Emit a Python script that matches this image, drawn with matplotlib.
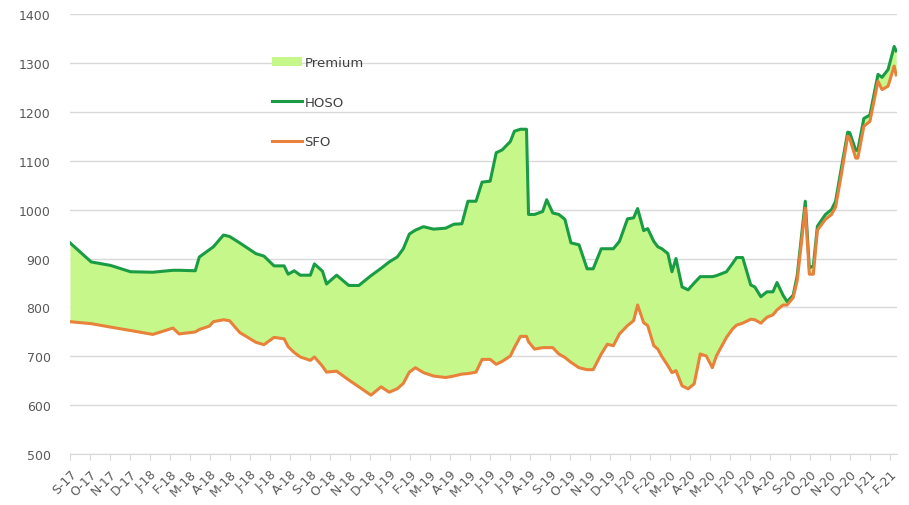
import matplotlib.pyplot as plt
import numpy as np

# month offsets from start of Sep-2017, with HOSO / SFO prices
months = [0.0, 1.05, 2.0, 3.0, 4.1, 5.1, 5.4, 6.2, 6.4, 6.9, 7.1, 7.6, 7.9, 8.4,
          9.2, 9.6, 10.1, 10.6, 10.8, 11.1, 11.4, 11.9, 12.1, 12.5, 12.7, 13.2,
          13.8, 14.3, 14.9, 15.4, 15.8, 16.2, 16.5, 16.8, 17.1, 17.5, 18.0, 18.6,
          19.0, 19.4, 19.7, 20.1, 20.4, 20.8, 21.1, 21.4, 21.8, 22.0, 22.3, 22.6,
          22.7, 23.0, 23.4, 23.6, 23.9, 24.2, 24.5, 24.8, 25.2, 25.6, 25.9, 26.3,
          26.6, 26.9, 27.2, 27.6, 27.9, 28.1, 28.4, 28.6, 28.9, 29.1, 29.3, 29.6,
          29.8, 30.0, 30.3, 30.6, 30.9, 31.2, 31.5, 31.8, 32.0, 32.5, 32.8, 33.0,
          33.3, 33.7, 33.9, 34.2, 34.5, 34.8, 35.0, 35.3, 35.5, 35.8, 36.0, 36.4,
          36.6, 36.8, 37.0, 37.4, 37.7, 37.9, 38.2, 38.5, 38.6, 38.9, 39.0, 39.3,
          39.6, 40.0, 40.2, 40.5, 40.8, 40.9]

hoso = [932, 893, 886, 873, 872, 876, 876, 875, 903, 918, 924, 948, 945, 932,
        910, 905, 885, 885, 868, 875, 866, 866, 889, 874, 848, 866,
        845, 845, 865, 880, 893, 903, 920, 950, 958, 965, 960, 962,
        970, 971, 1017, 1017, 1056, 1058, 1116, 1122, 1139, 1160, 1164, 1164,
        990, 990, 996, 1020, 993, 990, 980, 932, 928, 879, 879, 920,
        920, 920, 935, 981, 983, 1002, 957, 961, 935, 924, 920, 910,
        873, 900, 842, 836, 850, 863, 863, 863, 865, 873, 890, 902,
        902, 846, 842, 822, 832, 832, 851, 825, 812, 825, 865, 1017,
        881, 885, 966, 990, 1000, 1017, 1088, 1158, 1157, 1121, 1121, 1186,
        1193, 1276, 1270, 1286, 1333, 1324]

sfo = [771, 767, 760, 753, 745, 758, 746, 750, 755, 762, 771, 775, 773, 749,
       729, 724, 739, 736, 720, 708, 699, 692, 699, 680, 668, 670,
       652, 638, 621, 638, 627, 634, 645, 668, 677, 667, 660, 657,
       660, 664, 665, 668, 694, 694, 684, 690, 701, 718, 741, 741,
       730, 715, 718, 718, 718, 705, 698, 688, 677, 673, 673, 705,
       725, 722, 746, 763, 773, 805, 769, 763, 722, 715, 700, 681,
       667, 671, 640, 634, 644, 705, 701, 677, 701, 739, 756, 764,
       768, 776, 775, 768, 780, 785, 795, 805, 805, 820, 855, 1003,
       868, 868, 958, 980, 990, 1005, 1075, 1150, 1145, 1105, 1105, 1170,
       1180, 1262, 1245, 1252, 1293, 1275]

month_labels = ["S-17", "O-17", "N-17", "D-17", "J-18", "F-18", "M-18", "A-18",
                "M-18", "J-18", "J-18", "A-18", "S-18", "O-18", "N-18", "D-18",
                "J-19", "F-19", "M-19", "A-19", "M-19", "J-19", "J-19", "A-19",
                "S-19", "O-19", "N-19", "D-19", "J-20", "F-20", "M-20", "A-20",
                "M-20", "J-20", "J-20", "A-20", "S-20", "O-20", "N-20", "D-20",
                "J-21", "F-21"]

green = "#1a9c45"
orange = "#e8813a"
fill_green = "#c6f78b"
grey_txt = "#595959"

fig = plt.figure(figsize=(9.09, 5.06), dpi=100)
ax = fig.add_axes([0.077, 0.1, 0.91, 0.871])

x = np.array(months)
ax.fill_between(x, sfo, hoso, color=fill_green, linewidth=0, label="Premium")
ax.plot(x, hoso, color=green, linewidth=2.2, label="HOSO", solid_joinstyle="round")
ax.plot(x, sfo, color=orange, linewidth=2.2, label="SFO", solid_joinstyle="round")

ax.set_ylim(500, 1400)
ax.set_yticks(np.arange(500, 1401, 100))
ax.set_xlim(0, 40.95)
ax.set_xticks(np.arange(len(month_labels)) * 0.99)
ax.set_xticklabels(month_labels, rotation=45, ha="right", rotation_mode="anchor")

ax.grid(axis="y", color="#d9d9d9", linewidth=1)
ax.set_axisbelow(True)
for s in ["top", "right", "left"]:
    ax.spines[s].set_visible(False)
ax.spines["bottom"].set_color("#d9d9d9")
ax.tick_params(axis="y", length=0, labelsize=9, labelcolor=grey_txt, pad=14)
ax.tick_params(axis="x", length=4, color="#d9d9d9", labelsize=9,
               labelcolor=grey_txt, pad=5)

leg = ax.legend(loc="upper left", bbox_to_anchor=(0.23, 0.93), frameon=False,
                fontsize=9.5, labelspacing=2.0, handlelength=2.3,
                handletextpad=0.15)
for t in leg.get_texts():
    t.set_color("#404040")

fig.savefig("out.png", dpi=100)
